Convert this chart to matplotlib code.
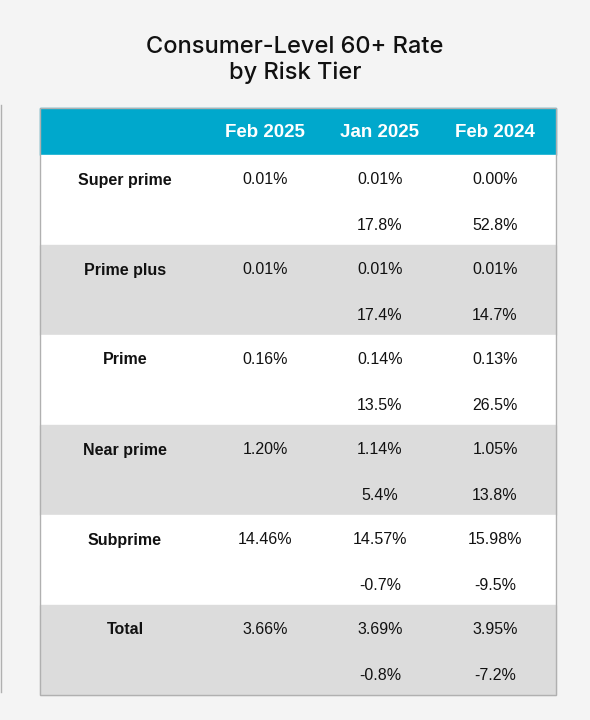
import matplotlib
matplotlib.use("Agg")
import matplotlib.pyplot as plt
from matplotlib.patches import Rectangle

title = "Consumer-Level 60+ Rate\nby Risk Tier"
columns = ["Feb 2025", "Jan 2025", "Feb 2024"]
tiers = ["Super prime", "Prime plus", "Prime", "Near prime", "Subprime", "Total"]
rates = [["0.01%", "0.01%", "0.00%"],
         ["0.01%", "0.01%", "0.01%"],
         ["0.16%", "0.14%", "0.13%"],
         ["1.20%", "1.14%", "1.05%"],
         ["14.46%", "14.57%", "15.98%"],
         ["3.66%", "3.69%", "3.95%"]]
changes = [["", "17.8%", "52.8%"],
           ["", "17.4%", "14.7%"],
           ["", "13.5%", "26.5%"],
           ["", "5.4%", "13.8%"],
           ["", "-0.7%", "-9.5%"],
           ["", "-0.8%", "-7.2%"]]

fig = plt.figure(figsize=(5.9, 7.2), dpi=100, facecolor="#f4f4f4")
ax = fig.add_axes([0, 0, 1, 1])
ax.set_xlim(0, 590); ax.set_ylim(720, 0); ax.axis("off")

ax.text(295, 60, title, ha="center", va="center", fontsize=17, family="Inter",
        fontweight="medium", linespacing=1.25, color="#111111")

left, right, top, head_h, row_h = 40, 556, 108, 47, 90
col_x = [265, 380, 495]
label_x = 125
ax.add_patch(Rectangle((left, top), right - left, head_h, color="#00a8cc", zorder=1))
for x, c in zip(col_x, columns):
    ax.text(x, top + head_h / 2 + 1, c, ha="center", va="center", color="white",
            fontsize=13.5, fontweight="bold", family="Liberation Sans")
for i, t in enumerate(tiers):
    y0 = top + head_h + i * row_h
    ax.add_patch(Rectangle((left, y0), right - left, row_h,
                           color="white" if i % 2 == 0 else "#dcdcdc", zorder=1))
    ax.text(label_x, y0 + 25, t, ha="center", va="center", fontsize=11.5,
            fontweight="bold", family="Liberation Sans", color="#111111")
    for x, r, ch in zip(col_x, rates[i], changes[i]):
        ax.text(x, y0 + 25, r, ha="center", va="center", fontsize=11.5,
                family="Liberation Sans", color="#111111")
        if ch:
            ax.text(x, y0 + 70, ch, ha="center", va="center", fontsize=11.5,
                    family="Liberation Sans", color="#111111")
bottom = top + head_h + len(tiers) * row_h
ax.add_patch(Rectangle((left, top), right - left, bottom - top, fill=False,
                       edgecolor="#b0b0b0", lw=1, zorder=3))
ax.plot([0.5, 0.5], [105, 692], color="#b0b0b0", lw=1)
fig.savefig("out.png", dpi=100, facecolor=fig.get_facecolor())
